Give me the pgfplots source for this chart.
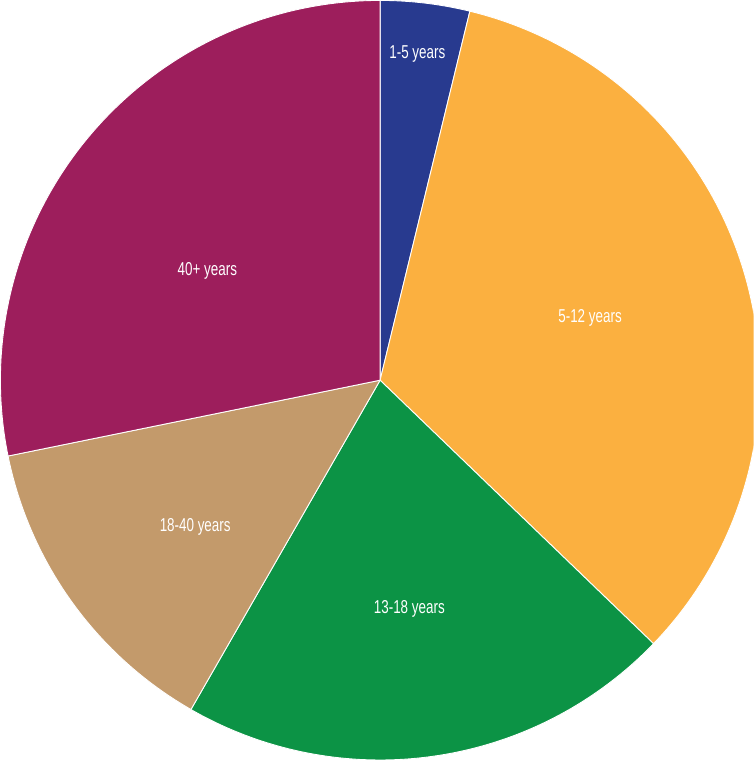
\documentclass[border=0pt]{standalone}
\usepackage{pgfplots}
\pgfplotsset{compat=1.18}
\usepackage{fontspec}
\setmainfont{Liberation Sans}[FakeStretch=0.72]

\definecolor{cBlue}{HTML}{283A8F}
\definecolor{cOrange}{HTML}{FBB040}
\definecolor{cGreen}{HTML}{0C9345}
\definecolor{cTan}{HTML}{C39A6B}
\definecolor{cMaroon}{HTML}{9D1E5C}

\tikzset{slicelabel/.style={font=\fontsize{10.5}{12}\selectfont, text=white}}

% shares in percent, clockwise from 12 o'clock
\def\sA{3.8}  % 1-5 years
\def\sB{33.4} % 5-12 years
\def\sC{21.1} % 13-18 years
\def\sD{13.5} % 18-40 years
\def\sE{28.2} % 40+ years

\begin{document}
\begin{tikzpicture}
\pgfmathsetmacro\aA{90}
\pgfmathsetmacro\aB{\aA-3.6*\sA}
\pgfmathsetmacro\aC{\aB-3.6*\sB}
\pgfmathsetmacro\aD{\aC-3.6*\sC}
\pgfmathsetmacro\aE{\aD-3.6*\sD}
\pgfmathsetmacro\aF{\aE-3.6*\sE}
\begin{axis}[
  scale only axis,
  width=15.06cm, height=15.2cm,
  xmin=-1.019, xmax=0.984,
  ymin=-1.0, ymax=1.021,
  hide axis,
  clip=true,
  every axis plot/.append style={draw=white, line width=0.5pt, samples=120, variable=\t, no markers},
]
\addplot[fill=cBlue,   domain=\aB:\aA] ({cos(t)},{sin(t)}) -- (axis cs:0,0) -- cycle;
\addplot[fill=cOrange, domain=\aC:\aB] ({cos(t)},{sin(t)}) -- (axis cs:0,0) -- cycle;
\addplot[fill=cGreen,  domain=\aD:\aC] ({cos(t)},{sin(t)}) -- (axis cs:0,0) -- cycle;
\addplot[fill=cTan,    domain=\aE:\aD] ({cos(t)},{sin(t)}) -- (axis cs:0,0) -- cycle;
\addplot[fill=cMaroon, domain=\aF:\aE] ({cos(t)},{sin(t)}) -- (axis cs:0,0) -- cycle;

\node[slicelabel] at (axis cs:0.098,0.859)   {1-5 years};
\node[slicelabel] at (axis cs:0.553,0.165)   {5-12 years};
\node[slicelabel] at (axis cs:0.077,-0.601)  {13-18 years};
\node[slicelabel] at (axis cs:-0.487,-0.386) {18-40 years};
\node[slicelabel] at (axis cs:-0.455,0.287)  {40+ years};
\end{axis}
\end{tikzpicture}
\end{document}
